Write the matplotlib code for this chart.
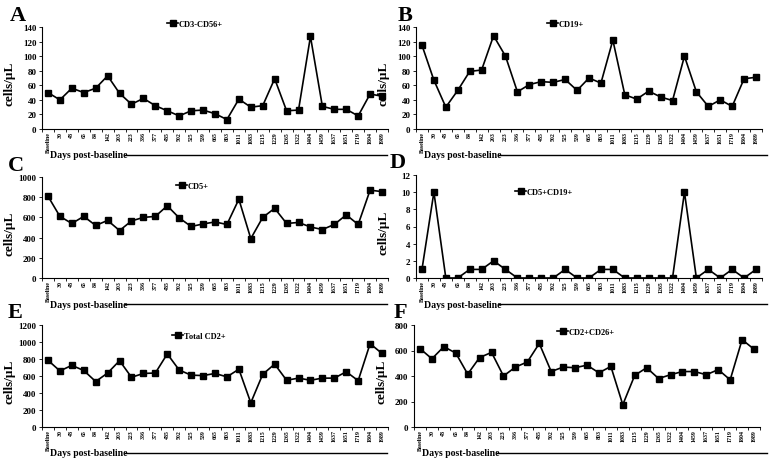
import matplotlib.pyplot as plt
from matplotlib.ticker import MultipleLocator, FixedLocator

plt.rcParams['font.family'] = ['Liberation Serif', 'DejaVu Serif']
plt.rcParams['font.weight'] = 'bold'

# sampling days
days = ['Baseline', '30', '48', '65', '84', '142', '203', '223', '336', '377',
        '485', '502', '525', '539', '665', '803', '1011', '1083', '1215', '1229',
        '1265', '1322', '1404', '1459', '1637', '1651', '1719', '1804', '1989']

# cells/uL for each population
cd3_cd56 = [50, 40, 56, 50, 56, 73, 49, 34, 42, 32, 25, 18, 25, 26, 21, 13,
            41, 30, 32, 69, 25, 26, 127, 31, 27, 27, 18, 48, 45]
cd19 = [115, 67, 30, 53, 79, 81, 128, 100, 51, 61, 65, 64, 68, 53, 70, 63,
        122, 47, 41, 52, 44, 39, 100, 51, 31, 40, 31, 69, 71]
cd5 = [810, 610, 540, 610, 520, 570, 470, 565, 600, 610, 715, 595, 510, 535,
       555, 530, 780, 390, 600, 690, 540, 550, 505, 480, 530, 625, 530, 870, 855]
cd5_cd19 = [1, 10, 0, 0, 1, 1, 2, 1, 0, 0, 0, 0, 1, 0, 0, 1, 1, 0, 0, 0, 0, 0,
            10, 0, 1, 0, 1, 0, 1]
total_cd2 = [785, 660, 725, 665, 535, 635, 780, 585, 630, 635, 860, 670, 610,
             605, 630, 590, 680, 285, 620, 740, 550, 575, 550, 575, 575, 650,
             545, 980, 865]
cd2_cd26 = [615, 535, 630, 580, 415, 545, 585, 400, 470, 510, 655, 435, 470,
            465, 485, 425, 475, 175, 405, 465, 380, 410, 435, 435, 410, 450,
            370, 685, 610]

W, H = 776, 464
fig = plt.figure(figsize=(W / 100, H / 100), dpi=100)


def px_axes(left, top, right, bottom):
    return fig.add_axes([left / W, 1 - bottom / H, (right - left) / W, (bottom - top) / H])


# (letter, data, label, ymax, ystep, axes box px, letter pos px, legend pos px)
panels = [
    ('A', cd3_cd56, 'CD3-CD56+', 140, 20, (42, 28, 388, 130), (10, 21), (163, 25)),
    ('B', cd19, 'CD19+', 140, 20, (416, 28, 762, 130), (398, 21), (543, 25)),
    ('C', cd5, 'CD5+', 1000, 200, (42, 178, 388, 279), (8, 171), (172, 187)),
    ('D', cd5_cd19, 'CD5+CD19+', 12, 2, (416, 176, 762, 279), (390, 168), (511, 193)),
    ('E', total_cd2, 'Total CD2+', 1200, 200, (42, 326, 388, 428), (8, 318), (168, 337)),
    ('F', cd2_cd26, 'CD2+CD26+', 800, 200, (414, 326, 760, 428), (394, 318), (553, 333)),
]

x = list(range(len(days)))

for letter, vals, label, ymax, ystep, box, lpos, legpos in panels:
    ax = px_axes(*box)
    ax.plot(x, vals, color='black', lw=1.2, marker='s', ms=4.5, label=label)
    ax.set_xlim(-0.5, len(days) - 0.5)
    ax.set_ylim(0, ymax)
    ax.yaxis.set_major_locator(MultipleLocator(ystep))
    ax.spines['top'].set_visible(False)
    ax.spines['right'].set_visible(False)
    for s in ('left', 'bottom'):
        ax.spines[s].set_linewidth(0.8)
    ax.set_xticks(x)
    ax.set_xticklabels(days, rotation=90, fontsize=4.2)
    ax.tick_params(axis='x', which='major', length=0, pad=1.5)
    ax.xaxis.set_minor_locator(FixedLocator([i - 0.5 for i in range(len(days) + 1)]))
    ax.tick_params(axis='x', which='minor', length=2, width=0.6)
    ax.tick_params(axis='y', labelsize=6.5, length=2, width=0.6, pad=2)
    ax.set_ylabel('cells/µL', fontsize=9.5, fontweight='bold', labelpad=2)
    # label sits just left of its own panel's tick labels
    ax.yaxis.set_label_coords(-26 / (box[2] - box[0]), 0.45)

    # x title with a trailing rule, as in the original figure
    yb = box[3] + 26
    fig.text((box[0] + 8) / W, 1 - yb / H, 'Days post-baseline', fontsize=7,
             fontweight='bold', va='center', ha='left')
    fig.add_artist(plt.Line2D([(box[0] + 83) / W, 767 / W if box[0] > 300 else 387 / W],
                              [1 - yb / H, 1 - yb / H], color='black', lw=1.0))

    fig.text(lpos[0] / W, 1 - lpos[1] / H, letter, fontsize=16, fontweight='bold',
             va='baseline', ha='left')

    ax.legend(loc='center left', bbox_to_anchor=(legpos[0] / W, 1 - legpos[1] / H),
              bbox_transform=fig.transFigure, frameon=False, fontsize=6,
              handlelength=1.3, handletextpad=0.1, borderpad=0, markerscale=0.9)

fig.savefig('out.png', dpi=100)
